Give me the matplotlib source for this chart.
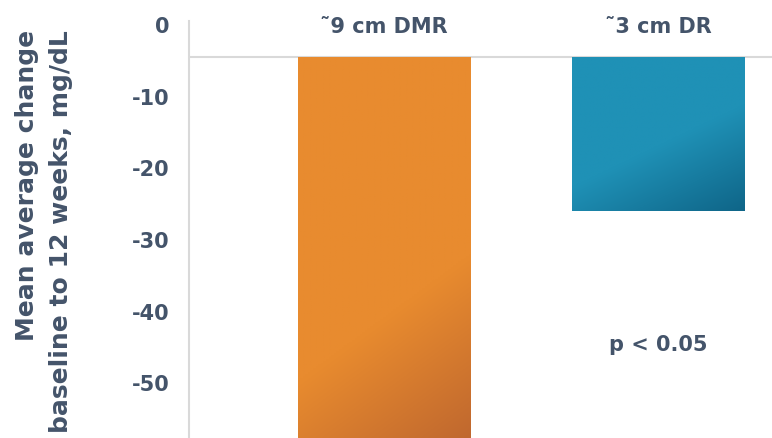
import matplotlib
matplotlib.use('Agg')
import matplotlib.pyplot as plt
import numpy as np
from matplotlib.colors import to_rgb

# data
categories = ['\u02dc9 cm DMR', '\u02dc3 cm DR']
values = [-62.0, -26.1]
baseline = -4.6
yticks = [0, -10, -20, -30, -40, -50]
p_text = 'p < 0.05'
p_y = -44.7

TEXT = '#44546A'
GRID = '#D9D9D9'
# (light colour, dark colour, weight of x in the diagonal, start of darkening)
GRADIENTS = [('#E88B2F', '#C0682E', 0.25, 0.64),
             ('#1F91B6', '#0F6588', 0.35, 0.55)]

fig = plt.figure(figsize=(7.72, 4.39), dpi=100)
ax = fig.add_axes([189 / 772, 0, (772 - 189) / 772, (439 - 22) / 439])

x = np.arange(len(categories))
width = 0.628
bars = ax.bar(x, np.array(values) - baseline, bottom=baseline, width=width,
              color='none', edgecolor='none')


def gradient_fill(ax, bar, c0, c1, wx, start, ymin_vis):
    x0, y0 = bar.get_x(), bar.get_y()
    w, h = bar.get_width(), bar.get_height()
    top, bot = y0, y0 + h
    n = 200
    vis_bot = max(bot, ymin_vis)
    u = np.linspace(0, 1, n)[None, :]
    v = np.linspace(0, 1, n)[:, None]
    t = wx * u + (1 - wx) * v
    t = np.clip((t - start) / (1 - start), 0, 1)
    a = np.array(to_rgb(c0))
    b = np.array(to_rgb(c1))
    img = a[None, None, :] * (1 - t[..., None]) + b[None, None, :] * t[..., None]
    im = ax.imshow(img, extent=[x0, x0 + w, vis_bot, top], origin='upper',
                   aspect='auto', zorder=2, interpolation='bilinear')
    im.set_clip_path(bar)


ylo, yhi = -57.8, 0.42
for bar, (c0, c1, wx, start) in zip(bars, GRADIENTS):
    gradient_fill(ax, bar, c0, c1, wx, start, ylo)

ax.set_xlim(-0.712, 1.416)
ax.set_ylim(ylo, yhi)
ax.axhline(baseline, color=GRID, linewidth=1.5, zorder=1)

for s in ('top', 'right', 'bottom'):
    ax.spines[s].set_visible(False)
ax.spines['left'].set_color(GRID)
ax.spines['left'].set_linewidth(1.5)
ax.set_xticks([])
ax.set_yticks(yticks)
ax.set_yticklabels([str(v) for v in yticks], fontsize=15, fontweight='bold', color=TEXT)
ax.tick_params(axis='y', length=0, pad=14)

for xi, cat in zip(x, categories):
    ax.text(xi, -0.3, cat, ha='center', va='center', fontsize=15,
            fontweight='bold', color=TEXT)

ax.text(x[1], p_y, p_text, ha='center', va='center', fontsize=15,
        fontweight='bold', color=TEXT)

fig.text(44 / 772, 1 - 30 / 439, 'Mean average change\nbaseline to 12 weeks, mg/dL',
         rotation=90, ha='center', va='top', multialignment='right',
         fontsize=18, fontweight='bold', color=TEXT, linespacing=1.5)

fig.savefig('out.png', dpi=100)
